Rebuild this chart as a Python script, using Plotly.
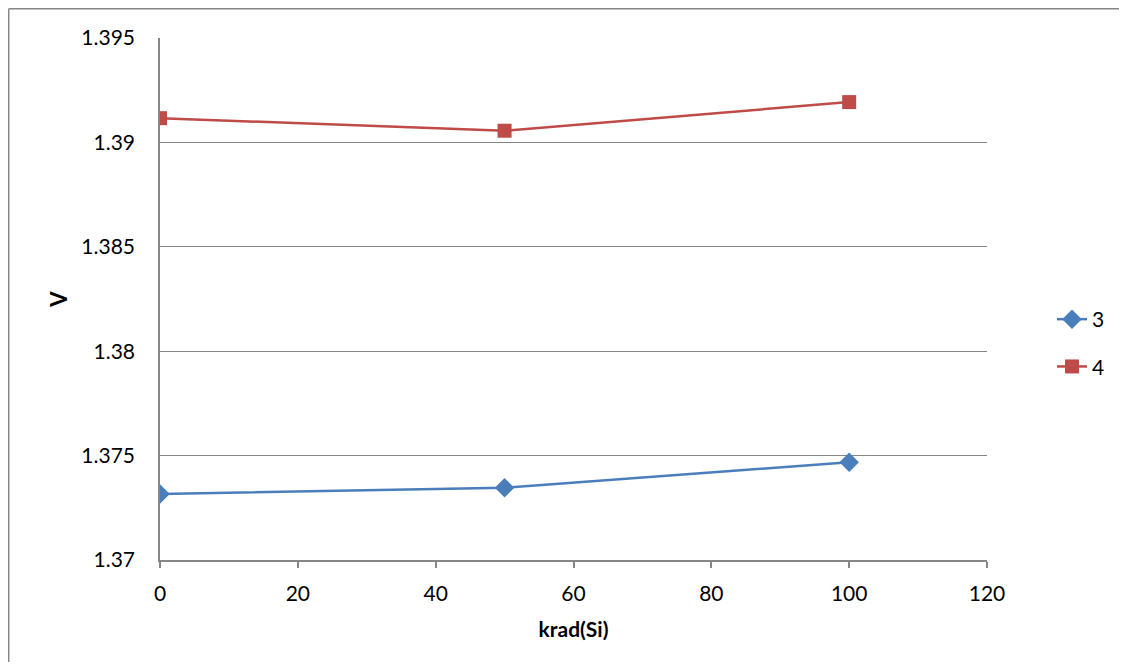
import plotly.graph_objects as go

x_vals = [0, 50, 100]
series3 = [1.37316, 1.37346, 1.37468]
series4 = [1.39116, 1.39056, 1.39193]
y_ticks = [1.37, 1.375, 1.38, 1.385, 1.39, 1.395]
y_tick_labels = ["1.37", "1.375", "1.38", "1.385", "1.39", "1.395"]
x_ticks = [0, 20, 40, 60, 80, 100, 120]

FONT = "Lato, Open Sans, sans-serif"
GRID = "#868686"

fig = go.Figure()
fig.add_trace(go.Scatter(
    x=x_vals, y=series3, name="3", mode="lines+markers",
    line=dict(color="#4A7EBB", width=2.5),
    marker=dict(symbol="diamond", size=15, color="#4A7EBB"),
    legendgroup="a",
))
fig.add_trace(go.Scatter(
    x=x_vals, y=series4, name="4", mode="lines+markers",
    line=dict(color="#BE4B48", width=2.5),
    marker=dict(symbol="square", size=14, color="#BE4B48"),
    legendgroup="b",
))

# page body adds an 8px margin; the figure is drawn 8px in from the window edge
OFF = 8
W, H = 1127 - OFF, 670 - 2 * OFF
L, T = 160 - OFF, 38 - OFF
pw, ph = 827, 522
R = W - L - pw
B = H - T - ph

def px2paper_x(p):
    return (p - OFF - L) / pw

def px2paper_y(p):
    return (T + ph - (p - OFF)) / ph

border = dict(color="#868686", width=1.5)
fig.update_layout(
    width=W, height=H,
    margin=dict(l=L, r=R, t=T, b=B),
    paper_bgcolor="white", plot_bgcolor="white",
    font=dict(family=FONT, size=21, color="black"),
    showlegend=True,
    legend=dict(
        x=px2paper_x(1052), y=px2paper_y(343), xanchor="left", yanchor="middle",
        font=dict(size=21), tracegroupgap=17, bgcolor="rgba(0,0,0,0)",
    ),
    xaxis=dict(
        range=[0, 120], tickvals=x_ticks, ticktext=[str(v) for v in x_ticks],
        showgrid=False, zeroline=False,
        showline=True, linecolor=GRID, linewidth=1.5,
        ticks="outside", ticklen=6, tickcolor=GRID, tickwidth=1.5,
        ticklabelstandoff=8,
        title=dict(text="<b>krad(Si)</b>", font=dict(size=21), standoff=18),
        tickfont=dict(size=21),
    ),
    yaxis=dict(
        range=[1.37, 1.395], tickvals=y_ticks, ticktext=y_tick_labels,
        showgrid=True, gridcolor=GRID, gridwidth=1.2, zeroline=False,
        showline=True, linecolor=GRID, linewidth=1.5,
        ticks="", ticklabelstandoff=19,
        title=dict(text="<b>V</b>", font=dict(size=22), standoff=8),
        tickfont=dict(size=21),
    ),
    shapes=[
        dict(type="line", xref="paper", yref="paper",
             x0=px2paper_x(8.7), x1=px2paper_x(8.7),
             y0=px2paper_y(8.7), y1=px2paper_y(680), line=border, layer="below"),
        dict(type="line", xref="paper", yref="paper",
             x0=px2paper_x(8.7), x1=px2paper_x(1140),
             y0=px2paper_y(8.7), y1=px2paper_y(8.7), line=border, layer="below"),
    ],
)

fig.write_html("out.html")
